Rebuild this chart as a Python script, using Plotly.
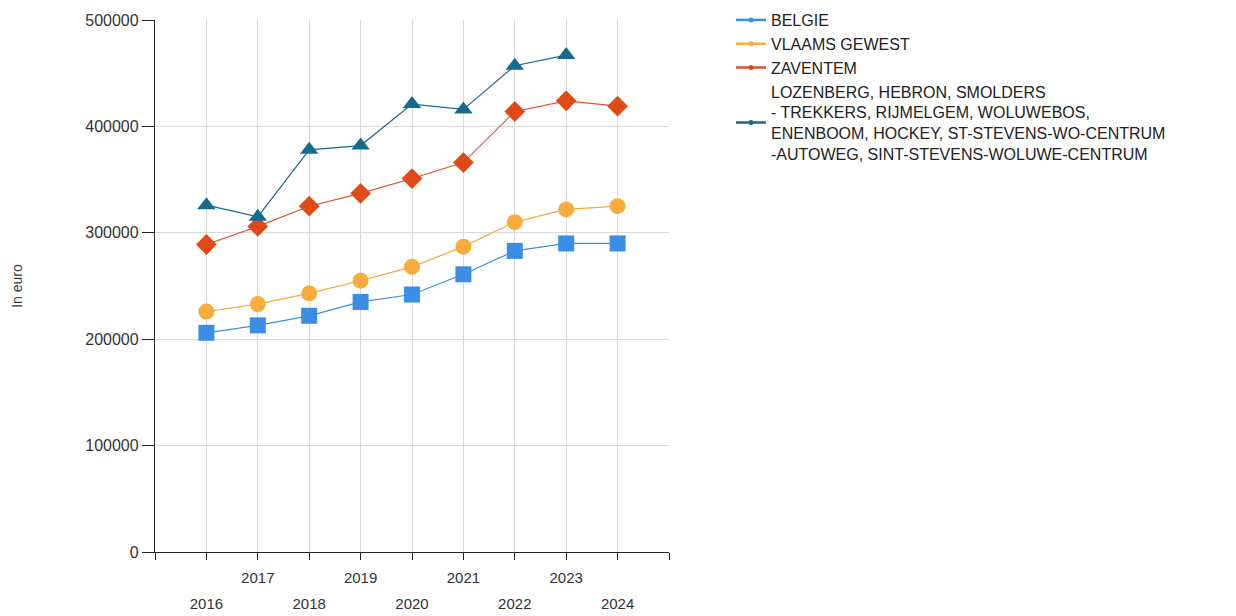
import plotly.graph_objects as go

years = [2016, 2017, 2018, 2019, 2020, 2021, 2022, 2023, 2024]
belgie = [206000, 213000, 222000, 235000, 242000, 261000, 283000, 290000, 290000]
vlaams = [226000, 233000, 243000, 255000, 268000, 287000, 310000, 322000, 325000]
zaventem = [289000, 306000, 325000, 337000, 351000, 366000, 414000, 424000, 419000]
lozenberg = [326000, 315000, 378000, 382000, 421000, 416000, 457000, 467000, None]

names = ["BELGIE", "VLAAMS GEWEST", "ZAVENTEM",
         "LOZENBERG, HEBRON, SMOLDERS<br>- TREKKERS, RIJMELGEM, WOLUWEBOS,<br>ENENBOOM, HOCKEY, ST-STEVENS-WO-CENTRUM<br>-AUTOWEG, SINT-STEVENS-WOLUWE-CENTRUM"]

tick_years = list(range(2015, 2026))
odd_years = [2017, 2019, 2021, 2023]
even_years = [2016, 2018, 2020, 2022, 2024]
y_ticks = [0, 100000, 200000, 300000, 400000, 500000]

FONT = "Liberation Sans, Arial, sans-serif"

series = [
    (belgie, names[0], "#3a8ee6", "#3a8ee6", "square", 16),
    (vlaams, names[1], "#f7ac3d", "#f7ac3d", "circle", 16),
    (zaventem, names[2], "#e05030", "#df4a16", "diamond", 16),
    (lozenberg, names[3], "#1a6890", "#146a8f", "triangle-up", 16),
]

fig = go.Figure()
for vals, name, lc, mc, sym, sz in series:
    fig.add_trace(go.Scatter(x=years, y=vals, name=name, mode="lines+markers",
                             showlegend=False,
                             line=dict(color=lc, width=1.2),
                             marker=dict(symbol=sym, size=sz, color=mc)))
# legend entries: line with small marker
for vals, name, lc, mc, sym, sz in series:
    fig.add_trace(go.Scatter(x=[None], y=[None], name=name, mode="lines+markers",
                             line=dict(color=lc, width=2.5),
                             marker=dict(symbol="circle", size=5, color=mc)))

W, H = 1236, 616
top, bottom_px = 12, 544   # figure coords (page has 8px body offset)
dom_lo = (H - bottom_px) / (H - top)
plot_w = 514

def pos(px):
    return (H - px) / (H - top)

fig.update_layout(
    template="none",
    width=W, height=H,
    margin=dict(l=147, r=W - 147 - plot_w, t=top, b=0, pad=0, autoexpand=False),
    plot_bgcolor="white", paper_bgcolor="white",
    font=dict(family=FONT, size=15, color="#333333"),
    showlegend=True,
    legend=dict(x=1 + 62 / plot_w, xanchor="left", y=1 + 17 / (H - top), yanchor="top",
                font=dict(family=FONT, size=16, color="#222222"),
                bgcolor="rgba(0,0,0,0)", tracegroupgap=0, borderwidth=0),
    xaxis=dict(range=[2015, 2025], tickvals=tick_years, showticklabels=False,
               ticks="outside", ticklen=7, tickcolor="#222222", automargin=False,
               showline=True, linecolor="#222222", linewidth=1.3,
               showgrid=True, gridcolor="#d9d9d9", gridwidth=1, zeroline=False),
    xaxis2=dict(range=[2015, 2025], overlaying="x", anchor="free", position=pos(559),
                side="bottom", tickvals=odd_years, ticktext=[str(v) for v in odd_years],
                ticks="", showline=False, showgrid=False, zeroline=False, automargin=False,
                tickfont=dict(family=FONT, size=15, color="#333333")),
    xaxis3=dict(range=[2015, 2025], overlaying="x", anchor="free", position=pos(585),
                side="bottom", tickvals=even_years, ticktext=[str(v) for v in even_years],
                ticks="", showline=False, showgrid=False, zeroline=False, automargin=False,
                tickfont=dict(family=FONT, size=15, color="#333333")),
    yaxis=dict(range=[0, 500000], domain=[dom_lo, 1], tickvals=y_ticks,
               ticktext=[str(v) for v in y_ticks], automargin=False,
               ticks="outside", ticklen=12, tickcolor="#222222",
               showline=True, linecolor="#222222", linewidth=1.3,
               showgrid=True, gridcolor="#d9d9d9", gridwidth=1, zeroline=False,
               tickfont=dict(family=FONT, size=16, color="#333333"),
               title=dict(text="In euro", standoff=59,
                          font=dict(family=FONT, size=14, color="#333333"))),
)

fig.add_trace(go.Scatter(x=[None], y=[None], xaxis="x2", showlegend=False, hoverinfo="skip"))
fig.add_trace(go.Scatter(x=[None], y=[None], xaxis="x3", showlegend=False, hoverinfo="skip"))

fig.write_html("out.html")
